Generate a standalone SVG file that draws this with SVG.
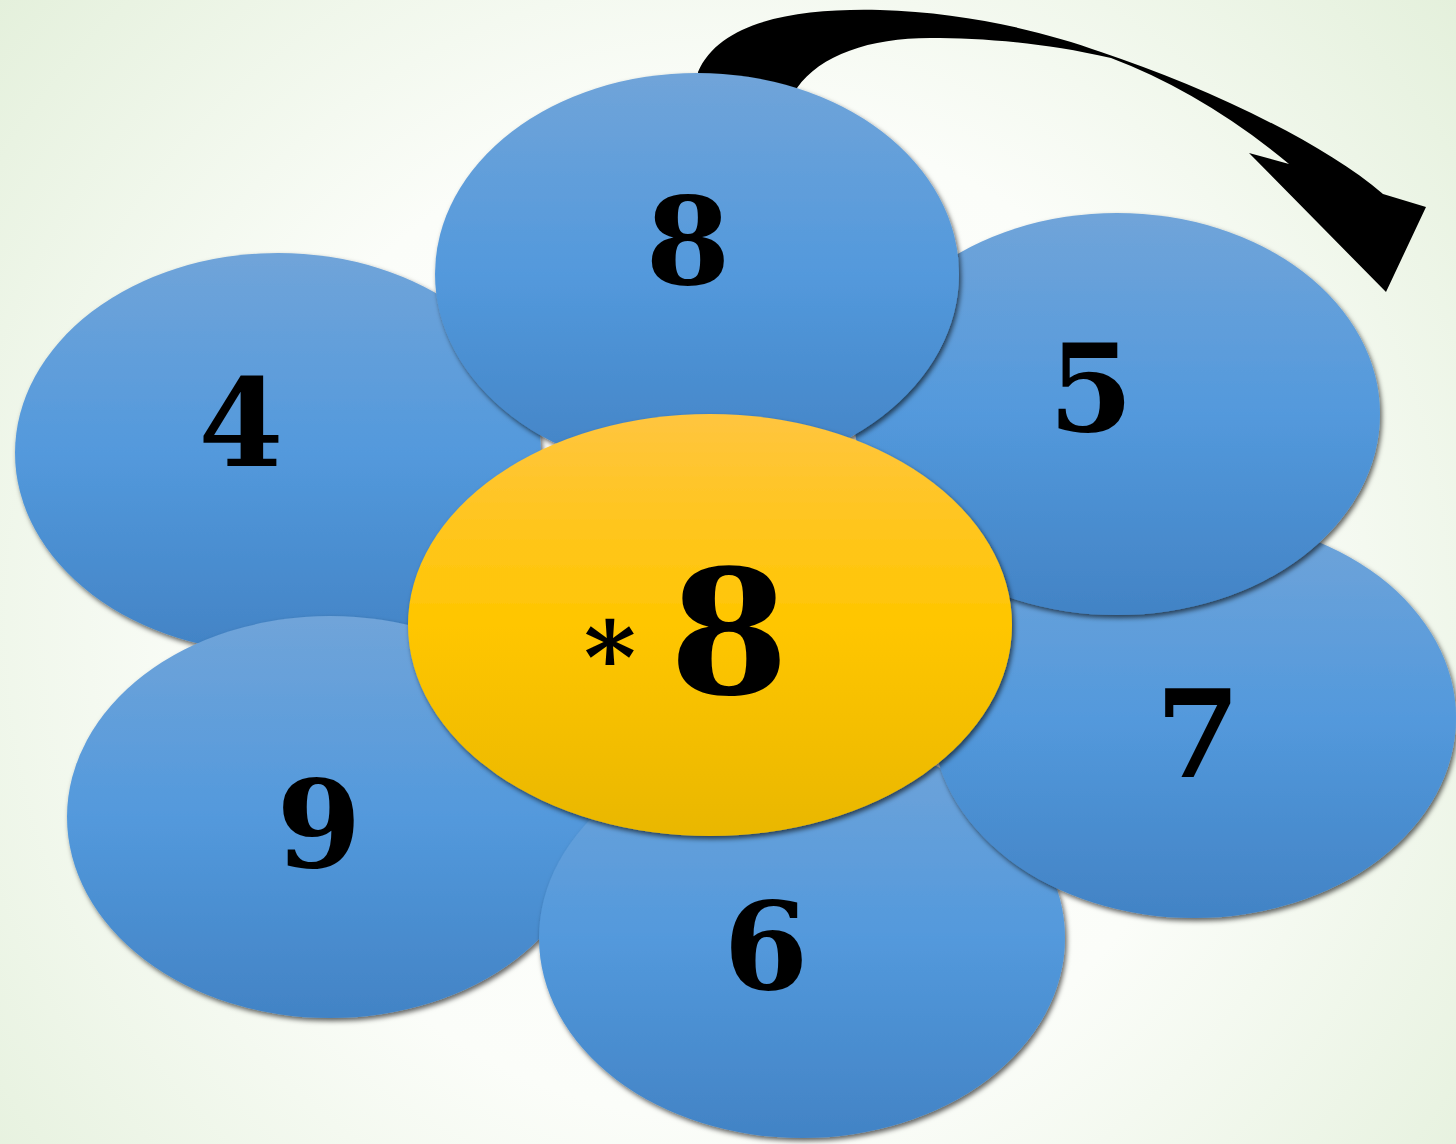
<svg xmlns="http://www.w3.org/2000/svg" width="1456" height="1144" viewBox="0 0 1456 1144">
<defs>
<radialGradient id="bg" cx="728" cy="620" r="1000" gradientUnits="userSpaceOnUse">
<stop offset="0" stop-color="#ffffff"/>
<stop offset="0.5" stop-color="#fbfdf9"/>
<stop offset="1" stop-color="#e2efd9"/>
</radialGradient>
<linearGradient id="blue" x1="0" y1="0" x2="0" y2="1">
<stop offset="0" stop-color="#70a4d9"/>
<stop offset="0.5" stop-color="#5399dc"/>
<stop offset="1" stop-color="#4283c5"/>
</linearGradient>
<linearGradient id="gold" x1="0" y1="0" x2="0" y2="1">
<stop offset="0" stop-color="#ffc53f"/>
<stop offset="0.5" stop-color="#ffc600"/>
<stop offset="1" stop-color="#e9b700"/>
</linearGradient>
<filter id="sh" x="-10%" y="-10%" width="120%" height="125%">
<feDropShadow dx="2" dy="3" stdDeviation="2.5" flood-color="#000" flood-opacity="0.6"/>
</filter>
<style>
.petal{fill:url(#blue);filter:url(#sh)}
.core{fill:url(#gold);filter:url(#sh)}
.num{font-family:"DejaVu Serif","Liberation Serif",serif;font-weight:bold;fill:#000;text-anchor:middle}
</style>
</defs>
<rect width="1456" height="1144" fill="url(#bg)"/>
<g id="connectors">
<path d="M700,110 L698,72 C720,20 800,8 880,10 C960,12 1040,30 1101,52 C1200,85 1320,140 1383,194 L1426,207 L1386,292 L1249,153 L1289,164 C1230,115 1170,80 1111,58 C1040,42 980,38 930,38 C870,38 820,55 797,88 L800,110 Z" fill="#000"/>
</g>
<g id="petal-4"><ellipse class="petal" cx="278" cy="453" rx="263" ry="200"/><text class="num" x="241" y="466" font-size="122">4</text></g>
<g id="petal-9"><ellipse class="petal" cx="330" cy="817" rx="263" ry="201"/><text class="num" x="319" y="867" font-size="122">9</text></g>
<g id="petal-6"><ellipse class="petal" cx="802" cy="938" rx="263" ry="200"/><text class="num" x="766" y="989" font-size="122">6</text></g>
<g id="petal-7"><ellipse class="petal" cx="1194" cy="718" rx="262" ry="200"/><text class="num" x="1198" y="777" font-size="122">7</text></g>
<g id="petal-5"><ellipse class="petal" cx="1117" cy="414" rx="263" ry="201"/><text class="num" x="1091" y="431" font-size="122">5</text></g>
<g id="petal-8"><ellipse class="petal" cx="697" cy="274" rx="262" ry="201"/><text class="num" x="688" y="284" font-size="122">8</text></g>
<g id="center"><ellipse class="core" cx="710" cy="625" rx="302" ry="211"/><text class="num" x="610" y="693" font-size="100">*</text><text class="num" x="729" y="694" font-size="172">8</text></g>
</svg>
